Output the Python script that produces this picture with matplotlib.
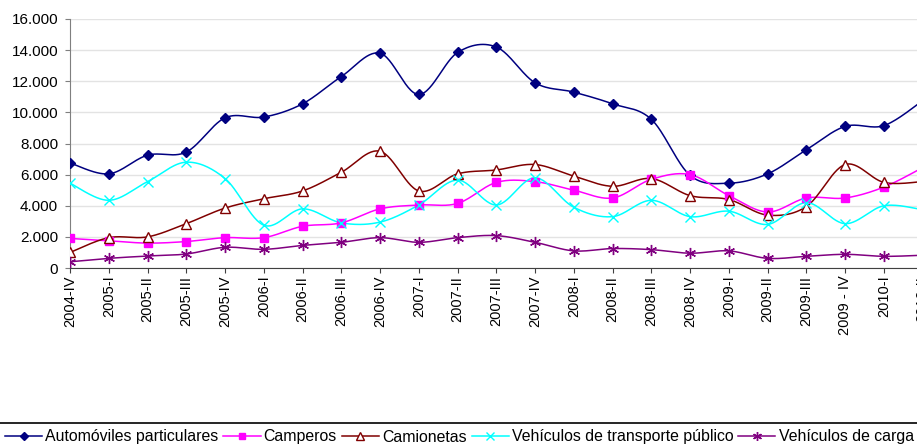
import numpy as np
import matplotlib
matplotlib.use("Agg")
import matplotlib.pyplot as plt
from matplotlib.lines import Line2D
from matplotlib.ticker import FuncFormatter

plt.rcParams['font.family'] = ['Liberation Sans', 'DejaVu Sans']

categories = ["2004-IV", "2005-I", "2005-II", "2005-III", "2005-IV", "2006-I", "2006-II",
              "2006-III", "2006-IV", "2007-I", "2007-II", "2007-III", "2007-IV", "2008-I",
              "2008-II", "2008-III", "2008-IV", "2009-I", "2009-II", "2009-III", "2009 - IV",
              "2010-I", "2010-II"]

automoviles = [6750, 6050, 7250, 7450, 9650, 9700, 10550, 12300, 13800, 11150, 13850, 14200,
               11900, 11300, 10550, 9550, 5950, 5450, 6050, 7600, 9100, 9150, 10750]
camperos = [1900, 1750, 1600, 1700, 1950, 1950, 2680, 2900, 3800, 4050, 4150, 5500,
            5550, 5000, 4500, 5700, 6000, 4650, 3600, 4500, 4500, 5200, 6450]
camionetas = [1000, 1950, 2000, 2850, 3850, 4450, 4950, 6150, 7500, 4950, 6050, 6300,
              6650, 5900, 5250, 5750, 4650, 4400, 3400, 3950, 6650, 5500, 5550]
transporte = [5450, 4350, 5550, 6800, 5750, 2750, 3800, 2900, 2950, 4050, 5650, 4050,
              5800, 3900, 3300, 4350, 3300, 3650, 2800, 4200, 2850, 4000, 3750]
carga = [400, 620, 770, 900, 1330, 1200, 1450, 1650, 1950, 1650, 1950, 2080,
         1650, 1100, 1250, 1180, 950, 1100, 620, 750, 880, 750, 820]

series_names = ["Automóviles particulares", "Camperos", "Camionetas",
                "Vehículos de transporte público", "Vehículos de carga"]


def smooth(x, y, n=30):
    x = np.asarray(x, float)
    y = np.asarray(y, float)
    P = np.column_stack([x, y])
    m = len(P)
    out = []
    for i in range(m - 1):
        p0 = P[i - 1] if i > 0 else P[i]
        p1 = P[i]
        p2 = P[i + 1]
        p3 = P[i + 2] if i + 2 < m else P[i + 1]
        c1 = p1 + (p2 - p0) / 6.0
        c2 = p2 - (p3 - p1) / 6.0
        t = np.linspace(0, 1, n)[:, None]
        seg = ((1 - t) ** 3) * p1 + 3 * ((1 - t) ** 2) * t * c1 + 3 * (1 - t) * t ** 2 * c2 + t ** 3 * p2
        if i > 0:
            seg = seg[1:]
        out.append(seg)
    out = np.vstack(out)
    return out[:, 0], out[:, 1]


fig = plt.figure(figsize=(9.17, 4.45), dpi=100)
ax = fig.add_axes([70 / 917, 177 / 445, 852.7 / 917, 249 / 445])

styles = [
    dict(color="#000080", marker="D", ms=5.5, mfc="#000080", mec="#000080", mew=1),
    dict(color="#FF00FF", marker="s", ms=6, mfc="#FF00FF", mec="#FF00FF", mew=1),
    dict(color="#800000", marker="^", ms=7, mfc="white", mec="#800000", mew=1),
    dict(color="#00FFFF", marker="x", ms=7, mfc="#00FFFF", mec="#00FFFF", mew=1),
    dict(color="#800080", marker=(6, 2, 0), ms=8, mfc="#800080", mec="#800080", mew=1),
]
data = [automoviles, camperos, camionetas, transporte, carga]
x = np.arange(len(categories))

handles = []
for vals, st, name in zip(data, styles, series_names):
    sx, sy = smooth(x, vals)
    ax.plot(sx, sy, color=st["color"], lw=1.1, zorder=3)
    ax.plot(x, vals, ls="none", marker=st["marker"], ms=st["ms"], mfc=st["mfc"],
            mec=st["mec"], mew=st["mew"], zorder=4)
    handles.append(Line2D([], [], color=st["color"], lw=1.1, marker=st["marker"],
                          ms=st["ms"] * 0.8, mfc=st["mfc"], mec=st["mec"], mew=st["mew"]))

ax.set_xlim(0, len(categories) - 1)
ax.set_ylim(0, 16000)
ax.set_yticks(np.arange(0, 16001, 2000))
ax.yaxis.set_major_formatter(FuncFormatter(lambda v, p: f"{int(v):,}".replace(",", ".")))
ax.set_xticks(x)
ax.set_xticklabels(categories, rotation=90, fontsize=10.5)
ax.tick_params(axis="y", labelsize=11, length=3.5, pad=5, color="#7f7f7f")
ax.tick_params(axis="x", length=3.5, pad=2, color="#404040")
ax.grid(axis="y", color="#e3e3e3", lw=1)
ax.set_axisbelow(True)
for s in ["top", "right"]:
    ax.spines[s].set_visible(False)
ax.spines["left"].set_color("#7f7f7f")
ax.spines["bottom"].set_color("#404040")

fig.add_artist(Line2D([0, 1], [1 - 423 / 445, 1 - 423 / 445], color="black", lw=1.2,
                      transform=fig.transFigure))
fig.legend(handles, series_names, loc="center left", bbox_to_anchor=(5 / 917, 1 - 437 / 445),
           ncol=5, frameon=False, fontsize=11.4, handlelength=2.35, handletextpad=0.2,
           columnspacing=0.3, borderpad=0, borderaxespad=0)

fig.savefig("out.png", dpi=100)
